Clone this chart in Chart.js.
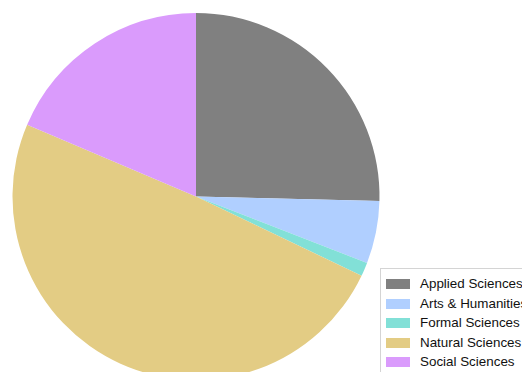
<!DOCTYPE html>
<html>
<head>
<meta charset="utf-8">
<script src="https://cdn.jsdelivr.net/npm/chart.js@4/dist/chart.umd.min.js"></script>
<style>
  html, body { margin: 0; padding: 0; width: 522px; height: 372px; overflow: hidden; background: #fff; }
  #wrap { position: absolute; left: 0; top: 0; width: 522px; height: 400px; }
  #legend { position: absolute; left: 380px; top: 268px; width: 160px; height: 120px;
            border: 1px solid #d4d4d4; background: #fff; box-sizing: border-box;
            font-family: "Liberation Sans", Arial, sans-serif; font-size: 13.4px; color: #111; }
  .item { position: absolute; left: 0; height: 20px; white-space: nowrap; }
  .sw { position: absolute; left: 5px; top: 4px; width: 24px; height: 10px; }
  .lb { position: absolute; left: 39px; top: 0; line-height: 18px; }
</style>
</head>
<body>
<div id="wrap"><canvas id="c" width="522" height="400"></canvas></div>
<div id="legend"></div>
<script>
const categories = ["Applied Sciences", "Arts & Humanities", "Formal Sciences", "Natural Sciences", "Social Sciences"];
const shares = [25.4, 5.5, 1.2, 49.3, 18.6];
const colors = ["#808080", "#b0cfff", "#82e0d7", "#e3cc84", "#da9bfc"];

new Chart(document.getElementById("c"), {
  type: "pie",
  data: {
    labels: categories,
    datasets: [{ data: shares, backgroundColor: colors, borderWidth: 0 }]
  },
  options: {
    responsive: false,
    animation: false,
    layout: { padding: { left: 12, right: 142, top: 13, bottom: 20 } },
    plugins: { legend: { display: false }, tooltip: { enabled: false } }
  }
});

const lg = document.getElementById("legend");
categories.forEach((name, i) => {
  const it = document.createElement("div");
  it.className = "item";
  it.style.top = (6 + i * 19.6) + "px";
  const sw = document.createElement("div");
  sw.className = "sw";
  sw.style.background = colors[i];
  const lb = document.createElement("div");
  lb.className = "lb";
  lb.textContent = name;
  it.appendChild(sw); it.appendChild(lb);
  lg.appendChild(it);
});
</script>
</body>
</html>
